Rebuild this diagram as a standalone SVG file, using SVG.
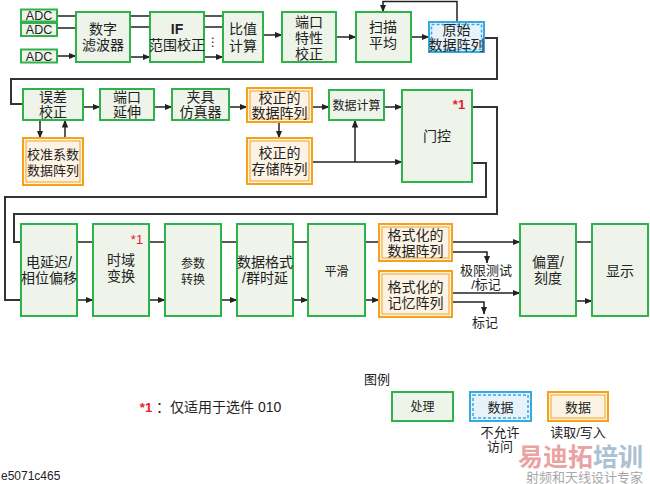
<svg xmlns="http://www.w3.org/2000/svg" width="650" height="484" viewBox="0 0 650 484">
<defs>
<marker id="ah" viewBox="0 0 8 8" refX="7.5" refY="4" markerWidth="8" markerHeight="8" markerUnits="userSpaceOnUse" orient="auto">
<path d="M0,0.8 L8,4 L0,7.2 Z" fill="#222"/>
</marker>
<style>
.p{fill:#eef4ea;stroke:#2db34a;stroke-width:2}
.bo{fill:#e6f3fb;stroke:#36a9e1;stroke-width:2}
.bi{fill:none;stroke:#36a9e1;stroke-width:1.5;stroke-dasharray:3 2}
.oo{fill:#fdf3e4;stroke:#f5a21b;stroke-width:2}
.oi{fill:none;stroke:#f5a21b;stroke-width:1}
text{font-family:"Liberation Sans","Noto Sans CJK SC",sans-serif;fill:#222;text-anchor:middle}
.t{font-size:14px}
.s{font-size:12px}
.a{font-size:12.5px}
.r{fill:#e8202a;font-size:13px}
.ca{fill:none;stroke:#222;stroke-width:1.5;marker-end:url(#ah)}
.l{fill:none;stroke:#333;stroke-width:2}
</style>
</defs>
<rect width="650" height="484" fill="#fff"/>

<g id="connectors">
<path class="ca" d="M57,16H76M57,28H76M57,56H76"/>
<path class="ca" d="M130,16H150M130,27H150M130,57H150"/>
<path class="ca" d="M204,16H223M204,27H223M204,57H223"/>
<path class="ca" d="M263,35H282"/>
<path class="ca" d="M336,37H356"/>
<path class="ca" d="M411,37H429"/>
<path class="ca" d="M457,22V1.5H383V12"/>
<path class="l" d="M484,38H497V79H11V104H23"/>
<path class="ca" d="M83,107H100"/>
<path class="ca" d="M154,107H172"/>
<path class="ca" d="M229,107H247"/>
<path class="ca" d="M312,107H329"/>
<path class="ca" d="M384,107H402"/>
<path class="ca" d="M40,120V138"/>
<path class="ca" d="M65,138V120"/>
<path class="ca" d="M279,122V138"/>
<path class="ca" d="M312,162H402"/>
<path class="ca" d="M355,162V120"/>
<path class="l" d="M472,107H497V214H14V242H21"/>
<path class="l" d="M472,163H486V197H5V300H21"/>
<path class="ca" d="M77,242H93M77,300H93"/>
<path class="ca" d="M149,242H165M149,300H165"/>
<path class="ca" d="M221,242H237M221,300H237"/>
<path class="ca" d="M293,242H308M293,300H308"/>
<path class="ca" d="M365,242H379M365,300H379"/>
<path class="ca" d="M452,242H520"/>
<path class="ca" d="M452,252H487V263"/>
<path class="ca" d="M452,293H520"/>
<path class="ca" d="M452,302H484V314"/>
<path class="ca" d="M576,242H592M576,301H592"/>
</g>

<g id="adc1"><rect class="p" x="21" y="9.5" width="36" height="12"/><text class="a" x="39" y="19.8">ADC</text></g>
<g id="adc2"><rect class="p" x="21" y="23" width="36" height="13"/><text class="a" x="39" y="34">ADC</text></g>
<g id="adc3"><rect class="p" x="21" y="49.5" width="36" height="13"/><text class="a" x="39" y="60.5">ADC</text></g>
<g id="filter"><rect class="p" x="76" y="12" width="54" height="50"/><text class="t" x="103" y="34">数字</text><text class="t" x="103" y="50">滤波器</text></g>
<g id="ifcorr"><rect class="p" x="150" y="12" width="54" height="50"/><text class="t" x="177" y="34" style="font-weight:bold">IF</text><text class="t" x="177" y="50">范围校正</text></g>
<text x="213" y="46" style="font-family:'DejaVu Sans',sans-serif;font-size:12px">⋮</text>
<g id="ratio"><rect class="p" x="223" y="12" width="40" height="50"/><text class="t" x="243" y="34">比值</text><text class="t" x="243" y="51">计算</text></g>
<g id="portchar"><rect class="p" x="282" y="12" width="54" height="50"/><text class="t" x="309" y="27">端口</text><text class="t" x="309" y="43">特性</text><text class="t" x="309" y="59">校正</text></g>
<g id="sweepavg"><rect class="p" x="356" y="12" width="55" height="50"/><text class="t" x="383" y="32">扫描</text><text class="t" x="383" y="48">平均</text></g>
<g id="rawarray"><rect class="bo" x="429" y="22" width="55" height="30"/><rect class="bi" x="431.5" y="24.5" width="50" height="25"/><text class="t" x="456.5" y="35">原始</text><text class="t" x="456.5" y="50">数据阵列</text></g>

<g id="errcorr"><rect class="p" x="23" y="89" width="60" height="31"/><text class="t" x="53" y="102">误差</text><text class="t" x="53" y="117">校正</text></g>
<g id="calarray"><rect class="oo" x="23" y="138" width="60" height="47"/><rect class="oi" x="26" y="141" width="54" height="41"/><text style="font-size:13px" x="53" y="159">校准系数</text><text style="font-size:13px" x="53" y="175">数据阵列</text></g>
<g id="portext"><rect class="p" x="100" y="89" width="54" height="31"/><text class="t" x="127" y="102">端口</text><text class="t" x="127" y="117">延伸</text></g>
<g id="fixture"><rect class="p" x="172" y="89" width="57" height="31"/><text class="t" x="200.5" y="102">夹具</text><text class="t" x="200.5" y="117">仿真器</text></g>
<g id="corrdata"><rect class="oo" x="247" y="88" width="65" height="34"/><rect class="oi" x="250" y="91" width="59" height="28"/><text class="t" x="279.5" y="103">校正的</text><text class="t" x="279.5" y="118">数据阵列</text></g>
<g id="corrmem"><rect class="oo" x="247" y="138" width="65" height="46"/><rect class="oi" x="250" y="141" width="59" height="40"/><text class="t" x="279.5" y="158">校正的</text><text class="t" x="279.5" y="174">存储阵列</text></g>
<g id="datacalc"><rect class="p" x="329" y="90" width="55" height="30"/><text class="s" x="356.5" y="110">数据计算</text></g>
<g id="gating"><rect class="p" x="402" y="90" width="70" height="92"/><text class="r" x="459" y="109" style="font-weight:bold">*1</text><text class="t" x="437" y="141">门控</text></g>

<g id="edelay"><rect class="p" x="21" y="224" width="56" height="92"/><text class="t" x="49" y="267">电延迟/</text><text class="t" x="49" y="283">相位偏移</text></g>
<g id="timedomain"><rect class="p" x="93" y="224" width="56" height="92"/><text class="r" x="137" y="244">*1</text><text class="t" x="121" y="265">时域</text><text class="t" x="121" y="281">变换</text></g>
<g id="paramconv"><rect class="p" x="165" y="224" width="56" height="92"/><text class="s" x="193" y="268">参数</text><text class="s" x="193" y="284">转换</text></g>
<g id="format"><rect class="p" x="237" y="224" width="56" height="92"/><text class="t" x="265" y="267">数据格式</text><text class="t" x="265" y="283">/群时延</text></g>
<g id="smooth"><rect class="p" x="308" y="224" width="57" height="92"/><text class="s" x="336.5" y="276">平滑</text></g>
<g id="fmtdata"><rect class="oo" x="379" y="224" width="73" height="37"/><rect class="oi" x="382" y="227" width="67" height="31"/><text class="t" x="415.5" y="240">格式化的</text><text class="t" x="415.5" y="256">数据阵列</text></g>
<g id="fmtmem"><rect class="oo" x="379" y="271" width="73" height="46"/><rect class="oi" x="382" y="274" width="67" height="40"/><text class="t" x="415.5" y="292">格式化的</text><text class="t" x="415.5" y="308">记忆阵列</text></g>
<text style="font-size:13px" x="486" y="275">极限测试</text>
<text style="font-size:13px" x="486" y="289">/标记</text>
<text style="font-size:13px" x="485" y="327">标记</text>
<g id="offset"><rect class="p" x="520" y="224" width="56" height="92"/><text class="t" x="548" y="267">偏置/</text><text class="t" x="548" y="283">刻度</text></g>
<g id="display"><rect class="p" x="592" y="224" width="56" height="92"/><text class="t" x="620" y="276">显示</text></g>

<g id="note"><text class="r" x="146" y="412" style="font-weight:bold">*1</text><text style="font-size:14px;text-anchor:start" x="156" y="412">：仅适用于选件 010</text></g>
<g id="legend">
<text style="font-size:13px;text-anchor:start" x="364" y="384">图例</text>
<rect class="p" x="392" y="392" width="61" height="29"/><text class="s" x="422.5" y="411">处理</text>
<rect class="bo" x="470" y="392" width="61" height="29"/><rect class="bi" x="473" y="395" width="55" height="23"/><text style="font-size:13px" x="500.5" y="412">数据</text>
<rect class="oo" x="548" y="392" width="60" height="29"/><rect class="oi" x="551" y="395" width="54" height="23"/><text style="font-size:13px" x="578" y="412">数据</text>
<text style="font-size:13px" x="500" y="437">不允许</text>
<text style="font-size:13px" x="500" y="451">访问</text>
<text style="font-size:13px" x="578" y="437">读取/写入</text>
</g>
<text style="font-size:12px;text-anchor:start" x="1" y="480">e5071c465</text>
<g id="watermark">
<text style="font-size:25px;font-weight:bold;text-anchor:start;fill:#eaa3a3" x="518" y="466">易迪拓<tspan style="fill:#a9c1d2">培训</tspan></text>
<text style="font-size:13px;text-anchor:start;fill:#a8a8a8" x="526" y="482">射频和天线设计专家</text>
</g>
</svg>
